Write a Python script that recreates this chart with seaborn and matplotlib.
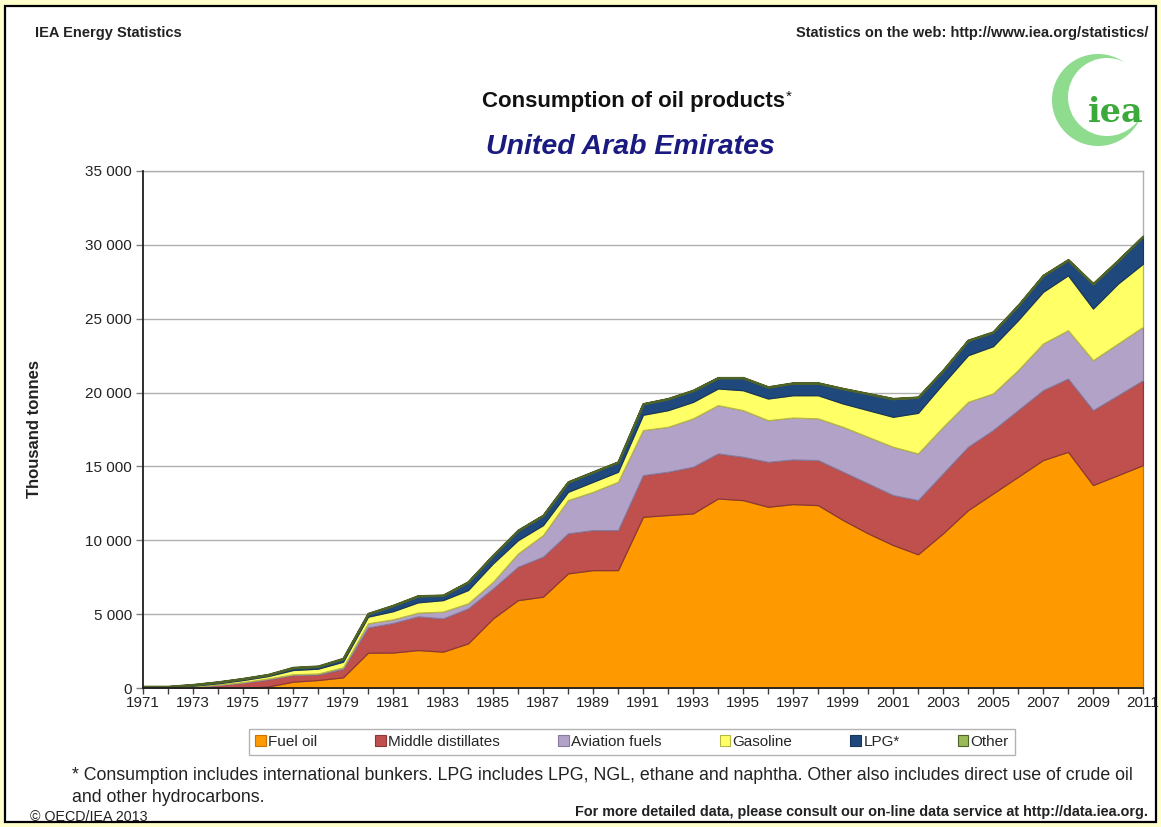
import numpy as np
import matplotlib
matplotlib.use("Agg")
import matplotlib.pyplot as plt
import seaborn as sns
from matplotlib.patches import Patch, Rectangle, Circle
from matplotlib.ticker import FuncFormatter, MultipleLocator

years = list(range(1971, 2012))

fuel_oil = [0, 0, 0, 0, 0, 100, 430, 540, 720, 2390, 2400, 2570, 2460, 3020, 4710,
            5950, 6180, 7760, 7980, 7980, 11590, 11710, 11820, 12830, 12720, 12270,
            12450, 12380, 11370, 10470, 9680, 9050, 10470, 12040, 13170, 14300, 15430,
            15990, 13740, 14410, 15090]
middle_distillates = [50, 50, 90, 200, 360, 490, 450, 380, 570, 1710, 2000, 2280, 2250,
                      2370, 2030, 2260, 2710, 2710, 2710, 2710, 2820, 2930, 3160, 3050,
                      2930, 3040, 3020, 3050, 3270, 3380, 3380, 3670, 4060, 4290, 4290,
                      4510, 4730, 4960, 5070, 5410, 5750]
aviation_fuels = [10, 10, 20, 30, 40, 50, 50, 60, 110, 280, 250, 250, 460, 340, 450, 900,
                  1460, 2250, 2590, 3270, 3050, 3040, 3270, 3270, 3160, 2820, 2840, 2820,
                  3040, 3150, 3270, 3160, 3150, 3040, 2480, 2710, 3160, 3270, 3380, 3500,
                  3610]
gasoline = [20, 20, 50, 90, 140, 170, 290, 330, 380, 450, 550, 700, 780, 900, 1250, 900,
            680, 560, 680, 680, 1040, 1130, 1120, 1130, 1350, 1470, 1510, 1570, 1580, 1810,
            2030, 2750, 2930, 3160, 3200, 3380, 3500, 3720, 3500, 4060, 4280]
lpg = [20, 20, 60, 80, 90, 90, 150, 150, 200, 200, 380, 430, 320, 540, 540, 660, 650,
       660, 660, 650, 730, 770, 770, 720, 840, 770, 820, 820, 1000, 1110, 1220, 1050,
       890, 1000, 950, 990, 1100, 1040, 1670, 1560, 1850]
other = [10, 10, 20, 20, 20, 20, 30, 30, 30, 20, 20, 20, 20, 20, 20, 20, 20, 20, 20, 20,
         20, 20, 20, 20, 20, 20, 20, 20, 20, 20, 20, 20, 20, 20, 20, 20, 20, 20, 20, 20, 20]

labels = ["Fuel oil", "Middle distillates", "Aviation fuels", "Gasoline", "LPG*", "Other"]
colors = ["#FF9900", "#C0504D", "#B3A2C7", "#FFFF66", "#1F497D", "#9BBB59"]
edges = ["#C87400", "#8C3836", "#8A7A9E", "#B8B840", "#17375E", "#4F6228"]

sns.set_theme(style="white")
plt.rcParams["font.family"] = ["Liberation Sans", "DejaVu Sans"]

W, H = 1161, 827
fig = plt.figure(figsize=(W / 100, H / 100), dpi=100)
fig.patch.set_facecolor("#FFFFCC")
frame = Rectangle((5 / W, 5 / H), 1151 / W, 816 / H, transform=fig.transFigure,
                  facecolor="white", edgecolor="black", linewidth=1.6, zorder=-10)
fig.patches.append(frame)

ax = fig.add_axes([143 / W, 1 - 688 / H, 1000 / W, 517 / H])
ax.set_zorder(1)
ax.set_facecolor("white")

series = [fuel_oil, middle_distillates, aviation_fuels, gasoline, lpg, other]
polys = ax.stackplot(years, *series, colors=colors, zorder=3)
for p, ec in zip(polys, edges):
    p.set_edgecolor(ec)
    p.set_linewidth(0.9)
polys[-1].set_linewidth(1.6)

ax.set_xlim(1971, 2011)
ax.set_ylim(0, 35000)
ax.set_yticks(range(0, 35001, 5000))
ax.yaxis.set_major_formatter(FuncFormatter(lambda v, _: f"{int(v):,}".replace(",", " ")))
ax.set_xticks(range(1971, 2012, 2))
ax.xaxis.set_minor_locator(MultipleLocator(1))
ax.grid(axis="y", color="#B0B0B0", linewidth=1.0, zorder=1)
ax.tick_params(axis="y", which="major", direction="out", length=5, width=1, color="#808080",
               labelsize=11, pad=3, left=True)
ax.tick_params(axis="x", which="both", direction="out", length=4, width=1, color="#404040",
               labelsize=11, pad=2, bottom=True)
for lbl in ax.get_xticklabels() + ax.get_yticklabels():
    lbl.set_color("#222222")

for s in ["left", "bottom"]:
    ax.spines[s].set_color("#202020")
    ax.spines[s].set_linewidth(1.3)
    ax.spines[s].set_zorder(5)
for s in ["top", "right"]:
    ax.spines[s].set_color("#B0B0B0")
    ax.spines[s].set_linewidth(1.0)

ax.set_ylabel("Thousand tonnes", fontsize=12, fontweight="bold", color="#222222", labelpad=31)

# headers
fig.text(35 / W, 1 - 33 / H, "IEA Energy Statistics", fontsize=10.5, fontweight="bold",
         color="#222222", va="center", ha="left")
fig.text(1148 / W, 1 - 33 / H, "Statistics on the web: http://www.iea.org/statistics/",
         fontsize=10.5, fontweight="bold", color="#222222", va="center", ha="right")
fig.text(785 / W, 1 - 101 / H, "Consumption of oil products", fontsize=16,
         fontweight="bold", color="#111111", va="center", ha="right")
fig.text(786 / W, 1 - 97 / H, "*", fontsize=11, color="#111111", va="center", ha="left")
fig.text(630 / W, 1 - 147 / H, "United Arab Emirates", fontsize=20.5, fontweight="bold",
         fontstyle="italic", color="#1A1A80", va="center", ha="center")

# logo
fig.patches.append(Circle((1098, H - 100), 46, transform=None, facecolor="#8FDC8F",
                          edgecolor="none", zorder=2))
fig.patches.append(Circle((1107, H - 97), 39, transform=None, facecolor="white",
                          edgecolor="none", zorder=2))
fig.text(1116 / W, 1 - 112 / H, "iea", fontsize=24, fontweight="bold", family="DejaVu Serif",
         color="#3BAA3B", va="center", ha="center", zorder=3)

# legend
handles = [Patch(facecolor=c, edgecolor=e, linewidth=0.8) for c, e in zip(colors, edges)]
leg = fig.legend(handles, labels, loc="center", bbox_to_anchor=(632 / W, 1 - 742 / H),
                 ncol=6, fontsize=11, frameon=True, fancybox=False, handlelength=0.7,
                 handleheight=0.7, handletextpad=0.15, columnspacing=3.8,
                 borderpad=0.4, edgecolor="#A0A0A0")
leg.get_frame().set_linewidth(1.0)

# footnotes
fig.text(72 / W, 1 - 776 / H,
         "* Consumption includes international bunkers. LPG includes LPG, NGL, ethane and "
         "naphtha. Other also includes direct use of crude oil",
         fontsize=12.8, color="#222222", va="center", ha="left")
fig.text(72 / W, 1 - 797 / H, "and other hydrocarbons.", fontsize=12.8, color="#222222",
         va="center", ha="left")
fig.text(1148 / W, 1 - 812 / H,
         "For more detailed data, please consult our on-line data service at http://data.iea.org.",
         fontsize=10.4, fontweight="bold", color="#222222", va="center", ha="right")
fig.text(30 / W, 1 - 817 / H, "\u00a9 OECD/IEA 2013", fontsize=10.3, color="#222222",
         va="center", ha="left")

fig.savefig("out.png", dpi=100, facecolor=fig.get_facecolor())
